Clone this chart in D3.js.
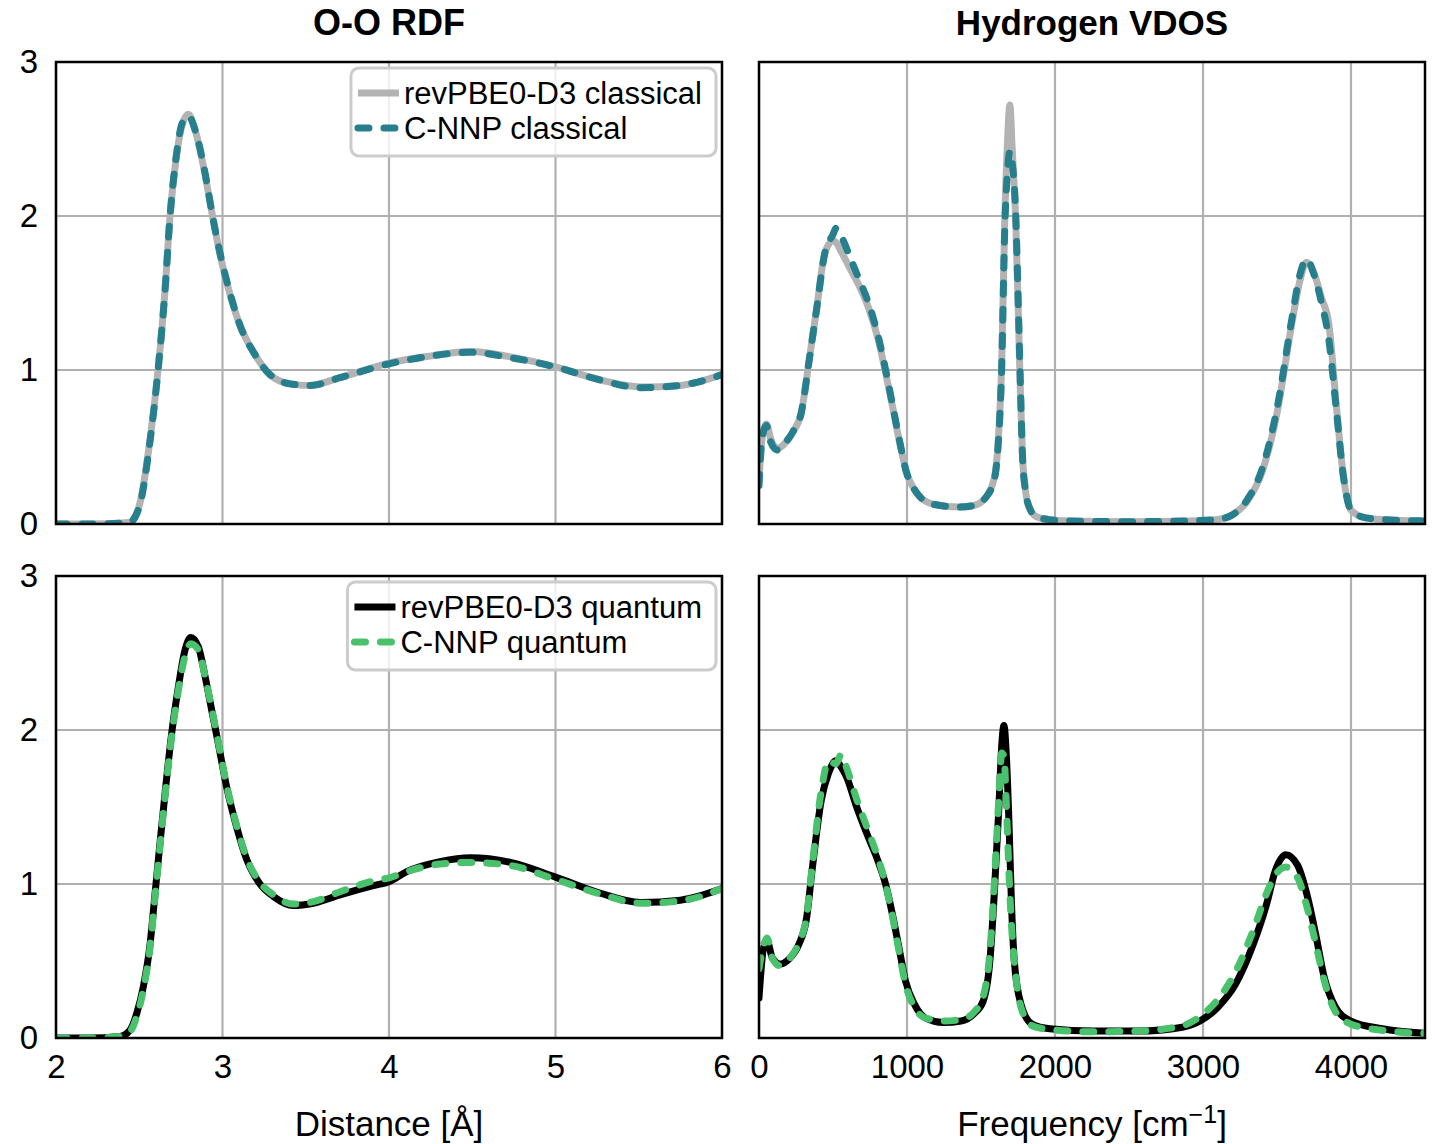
<!DOCTYPE html>
<html>
<head>
<meta charset="utf-8">
<script src="https://cdn.jsdelivr.net/npm/d3@7"></script>
<style>
body { margin: 0; background: #fff; }
svg { display: block; }
</style>
</head>
<body>
<svg id="chart" width="1435" height="1144"></svg>
<script>
// values
var yTicks = [0, 1, 2, 3];
var distTicks = [2, 3, 4, 5, 6];
var freqTicks = [0, 1000, 2000, 3000, 4000];

// O-O RDF, classical
var distC = [2.0, 2.2, 2.44, 2.5, 2.565, 2.613, 2.655, 2.685, 2.72, 2.757, 2.795, 2.835, 2.895, 2.94, 2.985, 3.045, 3.105, 3.195, 3.285, 3.405, 3.525, 3.705, 4.0, 4.246, 4.49, 4.73, 5.0, 5.27, 5.51, 5.75, 6.0];
var rdfRefC = [0, 0, 0.01, 0.12, 0.55, 1.0, 1.52, 2.0, 2.36, 2.59, 2.66, 2.56, 2.27, 2.0, 1.75, 1.49, 1.29, 1.10, 0.97, 0.91, 0.90, 0.95, 1.045, 1.09, 1.12, 1.085, 1.02, 0.935, 0.89, 0.90, 0.97];
var rdfNnpC = [0, 0, 0.01, 0.11, 0.54, 1.0, 1.52, 2.0, 2.37, 2.60, 2.65, 2.56, 2.28, 2.0, 1.76, 1.50, 1.29, 1.10, 0.97, 0.91, 0.90, 0.95, 1.04, 1.09, 1.115, 1.08, 1.02, 0.935, 0.885, 0.90, 0.97];

// O-O RDF, quantum
var distQ = [2.0, 2.2, 2.384, 2.444, 2.485, 2.524, 2.565, 2.595, 2.625, 2.655, 2.695, 2.735, 2.775, 2.809, 2.855, 2.895, 2.935, 2.975, 3.025, 3.085, 3.145, 3.225, 3.305, 3.425, 3.545, 3.706, 3.906, 4.0, 4.106, 4.306, 4.49, 4.73, 5.0, 5.27, 5.51, 5.75, 6.0];
var rdfRefQ = [0, 0, 0.01, 0.05, 0.16, 0.33, 0.61, 0.94, 1.27, 1.59, 1.98, 2.28, 2.52, 2.60, 2.54, 2.35, 2.13, 1.91, 1.63, 1.37, 1.16, 1.0, 0.92, 0.86, 0.875, 0.93, 0.99, 1.015, 1.08, 1.145, 1.17, 1.14, 1.045, 0.94, 0.88, 0.895, 0.97];
var rdfNnpQ = [0, 0, 0.01, 0.04, 0.14, 0.31, 0.59, 0.92, 1.25, 1.57, 1.96, 2.26, 2.48, 2.56, 2.52, 2.35, 2.14, 1.92, 1.64, 1.38, 1.17, 1.01, 0.93, 0.87, 0.885, 0.95, 1.02, 1.04, 1.08, 1.13, 1.14, 1.12, 1.03, 0.935, 0.875, 0.89, 0.97];

// Hydrogen VDOS, classical
var freqC = [0, 20, 50, 80, 125, 180, 230, 285, 340, 390, 445, 500, 520, 560, 620, 680, 745, 810, 860, 905, 950, 995, 1060, 1170, 1350, 1450, 1530, 1590, 1615, 1640, 1660, 1680, 1695, 1710, 1735, 1750, 1765, 1780, 1800, 1830, 1870, 1950, 2100, 2500, 2900, 3100, 3200, 3300, 3400, 3500, 3600, 3650, 3700, 3750, 3800, 3850, 3900, 3950, 4000, 4100, 4300, 4500];
var vdosRefC = [0.27, 0.55, 0.65, 0.55, 0.49, 0.53, 0.60, 0.72, 1.07, 1.40, 1.76, 1.84, 1.83, 1.76, 1.65, 1.54, 1.39, 1.18, 0.96, 0.75, 0.53, 0.34, 0.21, 0.13, 0.11, 0.12, 0.17, 0.30, 0.52, 1.05, 1.95, 2.50, 2.72, 2.45, 1.95, 1.45, 0.90, 0.45, 0.22, 0.10, 0.05, 0.03, 0.02, 0.015, 0.02, 0.03, 0.06, 0.15, 0.34, 0.72, 1.30, 1.56, 1.70, 1.63, 1.47, 1.30, 0.78, 0.30, 0.09, 0.04, 0.025, 0.02];
var vdosNnpC = [0.25, 0.55, 0.64, 0.53, 0.48, 0.53, 0.60, 0.72, 1.07, 1.40, 1.76, 1.88, 1.92, 1.86, 1.72, 1.58, 1.42, 1.20, 0.98, 0.76, 0.54, 0.34, 0.21, 0.13, 0.11, 0.12, 0.17, 0.29, 0.50, 1.02, 1.90, 2.30, 2.42, 2.35, 2.00, 1.50, 0.95, 0.45, 0.22, 0.10, 0.05, 0.03, 0.02, 0.015, 0.02, 0.03, 0.06, 0.16, 0.36, 0.75, 1.33, 1.60, 1.72, 1.62, 1.44, 1.20, 0.75, 0.30, 0.09, 0.04, 0.025, 0.02];

// Hydrogen VDOS, quantum
var freqQ = [0, 30, 55, 90, 140, 200, 270, 320, 360, 420, 470, 520, 555, 590, 660, 740, 800, 855, 900, 945, 990, 1050, 1125, 1245, 1365, 1455, 1515, 1560, 1590, 1620, 1640, 1655, 1672, 1690, 1705, 1725, 1770, 1845, 1965, 2260, 2560, 2860, 2980, 3100, 3220, 3340, 3430, 3490, 3560, 3640, 3700, 3760, 3820, 3895, 4000, 4210, 4500];
var vdosRefQ = [0.26, 0.58, 0.63, 0.52, 0.48, 0.51, 0.61, 0.77, 1.10, 1.54, 1.72, 1.80, 1.76, 1.70, 1.50, 1.30, 1.16, 1.00, 0.81, 0.59, 0.37, 0.22, 0.13, 0.10, 0.11, 0.16, 0.24, 0.50, 0.94, 1.48, 1.90, 2.03, 1.82, 1.37, 0.90, 0.50, 0.22, 0.09, 0.06, 0.045, 0.045, 0.07, 0.11, 0.20, 0.35, 0.61, 0.87, 1.09, 1.19, 1.12, 0.94, 0.68, 0.39, 0.20, 0.11, 0.06, 0.03];
var vdosNnpQ = [0.45, 0.60, 0.65, 0.52, 0.47, 0.51, 0.62, 0.78, 1.12, 1.60, 1.80, 1.78, 1.84, 1.76, 1.55, 1.34, 1.18, 1.00, 0.80, 0.57, 0.35, 0.20, 0.13, 0.11, 0.12, 0.17, 0.27, 0.56, 1.00, 1.55, 1.85, 1.83, 1.50, 1.05, 0.75, 0.50, 0.20, 0.08, 0.055, 0.04, 0.045, 0.08, 0.14, 0.25, 0.43, 0.70, 0.94, 1.06, 1.11, 1.04, 0.86, 0.62, 0.37, 0.17, 0.09, 0.05, 0.03];

var font = '"Liberation Sans", Arial, sans-serif';
var gray = "#b3b3b3", teal = "#277f8e", green = "#4ac16d";
var dash = "11,15";
var svg = d3.select("#chart");

var xDist = d3.scaleLinear().domain([2, 6]).range([56, 722]);
var xFreq = d3.scaleLinear().domain([0, 4500]).range([759, 1425]);
var yTop = d3.scaleLinear().domain([0, 3]).range([524, 62]);
var yBot = d3.scaleLinear().domain([0, 3]).range([1038, 576]);

var clipCount = 0;

function drawPanel(x, y, xTicks, lines) {
  var x0 = x.range()[0], x1 = x.range()[1];
  var yA = y.range()[1], yB = y.range()[0];
  var g = svg.append("g");
  var id = "clip" + (clipCount++);
  svg.append("clipPath").attr("id", id)
    .append("rect").attr("x", x0).attr("y", yA).attr("width", x1 - x0).attr("height", yB - yA);

  g.selectAll(".vgrid").data(xTicks).enter().append("line")
    .attr("x1", function(d) { return x(d); }).attr("x2", function(d) { return x(d); })
    .attr("y1", yA).attr("y2", yB)
    .attr("stroke", "#b0b0b0").attr("stroke-width", 2.2);
  g.selectAll(".hgrid").data(yTicks).enter().append("line")
    .attr("x1", x0).attr("x2", x1)
    .attr("y1", function(d) { return y(d); }).attr("y2", function(d) { return y(d); })
    .attr("stroke", "#b0b0b0").attr("stroke-width", 2.2);

  var lg = g.append("g").attr("clip-path", "url(#" + id + ")");
  lines.forEach(function(s) {
    var line = d3.line()
      .x(function(d) { return x(d[0]); })
      .y(function(d) { return y(d[1]); })
      .curve(d3.curveMonotoneX);
    lg.append("path")
      .datum(d3.zip(s.xs, s.ys))
      .attr("fill", "none")
      .attr("stroke", s.color)
      .attr("stroke-width", 7)
      .attr("stroke-linejoin", "round")
      .attr("stroke-linecap", "round")
      .attr("stroke-dasharray", s.dashed ? dash : null)
      .attr("d", line);
  });

  g.append("rect")
    .attr("x", x0).attr("y", yA).attr("width", x1 - x0).attr("height", yB - yA)
    .attr("fill", "none").attr("stroke", "#000").attr("stroke-width", 2.5);
  return g;
}

function styleAxis(ax, size) {
  ax.select(".domain").remove();
  ax.selectAll("text").attr("font-size", size).attr("font-family", font).attr("fill", "#000");
}

function drawLegend(panelRight, panelTop, entries) {
  var g = svg.append("g");
  var box = g.append("rect");
  var lineStart = 7, lineLen = 41, gap = 5;
  var texts = entries.map(function(e, i) {
    return g.append("text")
      .attr("y", panelTop + 6 + 25 + i * 35)
      .attr("dy", "0.36em")
      .attr("font-family", font)
      .attr("font-size", 31)
      .text(e.label);
  });
  var tw = d3.max(texts, function(t) { return t.node().getComputedTextLength(); });
  var w = lineStart + lineLen + gap + tw + 14;
  var left = panelRight - 6 - w;
  box.attr("x", left).attr("y", panelTop + 6).attr("width", w).attr("height", 88)
    .attr("rx", 8).attr("fill", "#fff").attr("fill-opacity", 0.8)
    .attr("stroke", "#cccccc").attr("stroke-width", 3);
  entries.forEach(function(e, i) {
    var yy = panelTop + 6 + 25 + i * 35;
    g.append("line")
      .attr("x1", left + lineStart).attr("x2", left + lineStart + lineLen)
      .attr("y1", yy).attr("y2", yy)
      .attr("stroke", e.color).attr("stroke-width", 7)
      .attr("stroke-linecap", e.dashed ? "round" : "butt")
      .attr("stroke-dasharray", e.dashed ? dash : null);
    texts[i].attr("x", left + lineStart + lineLen + gap);
  });
}

// panels
drawPanel(xDist, yTop, distTicks, [
  {xs: distC, ys: rdfRefC, color: gray},
  {xs: distC, ys: rdfNnpC, color: teal, dashed: true}
]);
drawPanel(xFreq, yTop, freqTicks, [
  {xs: freqC, ys: vdosRefC, color: gray},
  {xs: freqC, ys: vdosNnpC, color: teal, dashed: true}
]);
drawPanel(xDist, yBot, distTicks, [
  {xs: distQ, ys: rdfRefQ, color: "#000"},
  {xs: distQ, ys: rdfNnpQ, color: green, dashed: true}
]);
drawPanel(xFreq, yBot, freqTicks, [
  {xs: freqQ, ys: vdosRefQ, color: "#000"},
  {xs: freqQ, ys: vdosNnpQ, color: green, dashed: true}
]);

// y tick labels (left column only)
[yTop, yBot].forEach(function(y) {
  var ax = svg.append("g").attr("transform", "translate(56,0)")
    .call(d3.axisLeft(y).tickValues(yTicks).tickFormat(d3.format("d")).tickSize(0).tickPadding(18));
  styleAxis(ax, 33);
});

// x tick labels (bottom row only)
var axD = svg.append("g").attr("transform", "translate(0,1038)")
  .call(d3.axisBottom(xDist).tickValues(distTicks).tickFormat(d3.format("d")).tickSize(0).tickPadding(17));
styleAxis(axD, 33);
var axF = svg.append("g").attr("transform", "translate(0,1038)")
  .call(d3.axisBottom(xFreq).tickValues(freqTicks).tickFormat(d3.format("d")).tickSize(0).tickPadding(17));
styleAxis(axF, 33);

// titles
svg.append("text").attr("x", 389).attr("y", 35).attr("text-anchor", "middle")
  .attr("font-family", font).attr("font-weight", "bold").attr("font-size", 36).text("O-O RDF");
svg.append("text").attr("x", 1092).attr("y", 35).attr("text-anchor", "middle")
  .attr("font-family", font).attr("font-weight", "bold").attr("font-size", 35).text("Hydrogen VDOS");

// axis labels
svg.append("text").attr("x", 389).attr("y", 1136).attr("text-anchor", "middle")
  .attr("font-family", font).attr("font-size", 35).text("Distance [Å]");
var fl = svg.append("text").attr("x", 1092).attr("y", 1136).attr("text-anchor", "middle")
  .attr("font-family", font).attr("font-size", 35);
fl.append("tspan").text("Frequency [cm");
fl.append("tspan").attr("dy", -13).attr("font-size", 25).text("\u22121");
fl.append("tspan").attr("dy", 13).text("]");

// legends
drawLegend(722, 62, [
  {label: "revPBE0-D3 classical", color: gray},
  {label: "C-NNP classical", color: teal, dashed: true}
]);
drawLegend(722, 576, [
  {label: "revPBE0-D3 quantum", color: "#000"},
  {label: "C-NNP quantum", color: green, dashed: true}
]);
</script>
</body>
</html>
